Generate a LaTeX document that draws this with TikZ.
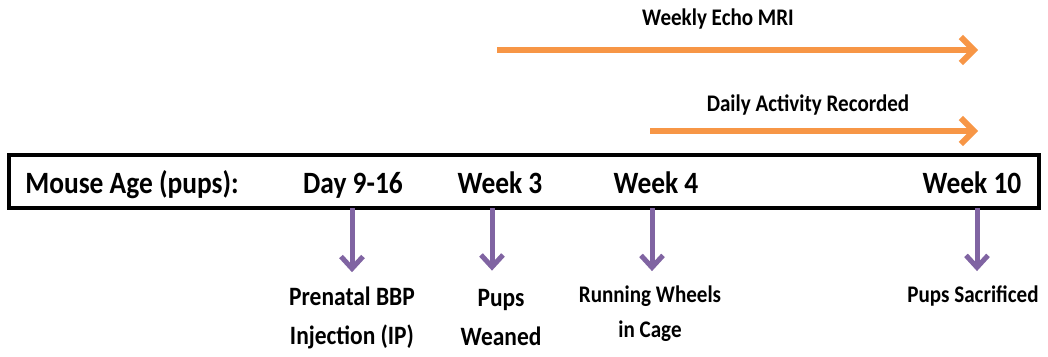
\documentclass[tikz,border=0pt]{standalone}
\usepackage{fontspec}
\setmainfont{Carlito}[FakeStretch=0.885]
\usetikzlibrary{arrows.meta}
\newlength{\du}
\setlength{\du}{1pt}
\definecolor{spancolor}{rgb}{0.968627, 0.588235, 0.274510}
\definecolor{eventcolor}{rgb}{0.501961, 0.392157, 0.635294}
\tikzset{
  agetext/.style={font=\fontsize{31}{36}\selectfont\bfseries, inner sep=0pt, anchor=base},
  spantext/.style={font=\fontsize{23.8}{28}\selectfont\bfseries, inner sep=0pt, anchor=base},
  eventtext/.style={font=\fontsize{26.5}{39}\selectfont\bfseries, inner sep=0pt, align=center, anchor=base},
  smalltext/.style={eventtext, font=\fontsize{23.8}{35}\selectfont\bfseries},
  spanarrow/.style={line width=6\du, draw=spancolor, -{Straight Barb[length=13pt, width=26pt]}},
  eventarrow/.style={line width=5\du, draw=eventcolor, shorten >=#1, -{Straight Barb[length=12pt, width=22pt]}},
  agebox/.style={draw=black, line width=4\du, inner sep=0pt}
}
\begin{document}
\begin{tikzpicture}
\pgftransformxscale{1.000000}
\pgftransformyscale{-1.000000}
\useasboundingbox (0\du,0\du) rectangle (1048\du,356\du);
% age bar
\node[agebox, minimum width=1030\du, minimum height=52.5\du] (agebar) at (524\du,181.5\du) {};
\node[agetext] (mouseage) at (132\du,193\du) {Mouse Age (pups):};
\node[agetext] (day) at (353\du,193\du) {Day 9-16};
\node[agetext] (week3) at (500\du,193\du) {Week 3};
\node[agetext] (week4) at (656\du,193\du) {Week 4};
\node[agetext] (week10) at (972\du,193\du) {Week 10};
% events
\node[eventtext] (prenatal) at (352\du,344\du) {Prenatal BBP\\Injection (IP)};
\node[eventtext] (weaned) at (501\du,345\du) {Pups\\Weaned};
\node[smalltext] (wheels) at (650\du,337\du) {Running Wheels\\in Cage};
\node[smalltext] (sacrificed) at (973\du,302\du) {Pups Sacrificed};
\coordinate (prenataltop) at (352\du,208\du);
\coordinate (weanedtop) at (492\du,208\du);
\coordinate (wheelstop) at (652\du,208\du);
\coordinate (sacrificedtop) at (977\du,208\du);
\draw[eventarrow=14pt] (prenataltop) -- (prenataltop |- prenatal.north);
\draw[eventarrow=18pt] (weanedtop) -- (weanedtop |- weaned.north);
\draw[eventarrow=14pt] (wheelstop) -- (wheelstop |- wheels.north);
\draw[eventarrow=14pt] (sacrificedtop) -- (sacrificedtop |- sacrificed.north);
% spans
\coordinate (echostart) at (497\du,50\du);
\coordinate (echoend) at (978\du,50\du);
\coordinate (activitystart) at (650\du,131\du);
\coordinate (activityend) at (978\du,131\du);
\node[spantext] (echo) at (718\du,25\du) {Weekly Echo MRI};
\node[spantext] (activity) at (808\du,111\du) {Daily Activity Recorded};
\draw[spanarrow] (echostart) -- (echoend);
\draw[spanarrow] (activitystart) -- (activityend);
\end{tikzpicture}
\end{document}
